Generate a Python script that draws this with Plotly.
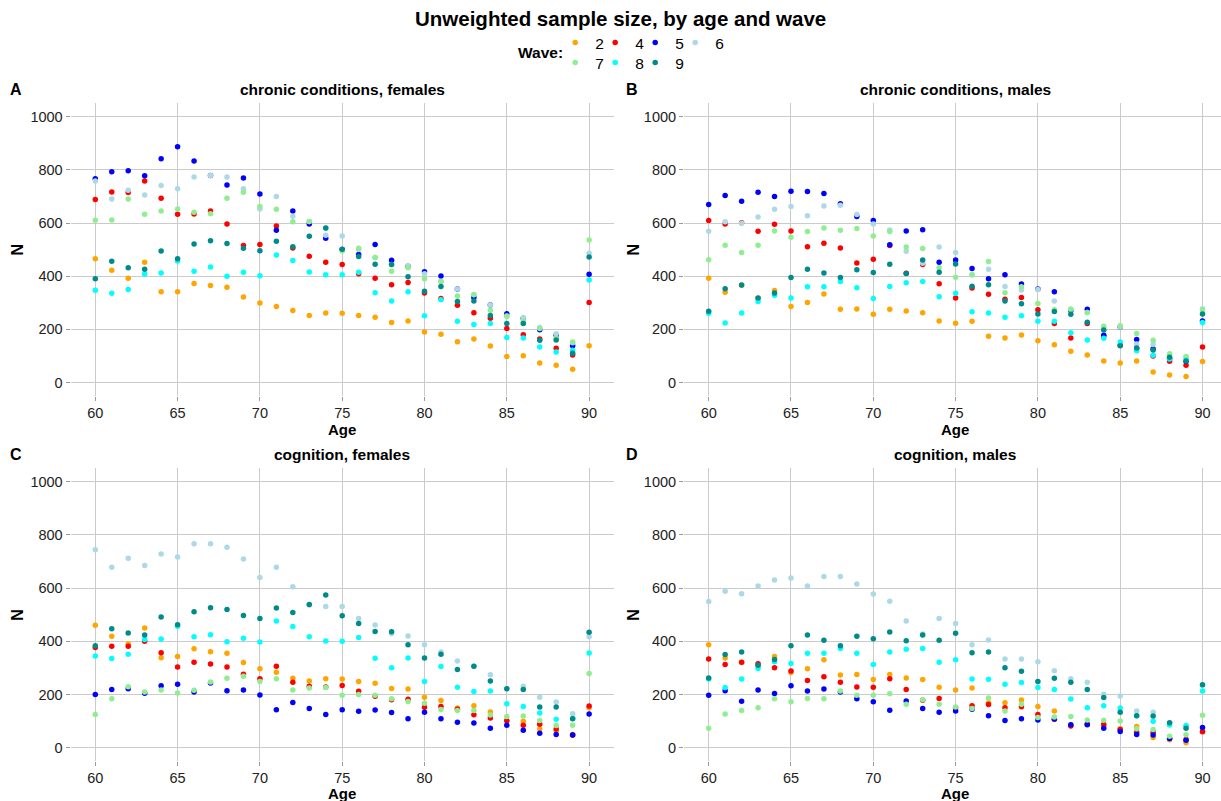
import plotly.graph_objects as go

# ---------------------------------------------------------------------------
# Data: unweighted sample size (N) by single year of age, per wave
# ---------------------------------------------------------------------------
ages = list(range(60, 91))
waves = ["2", "4", "5", "6", "7", "8", "9"]
wave_colors = ["#FFA500", "#FF0000", "#0000FF", "#ADD8E6", "#90EE90", "#00FFFF", "#008B8B"]

# A: chronic conditions, females
ccf_w2 = [466, 422, 392, 452, 342, 342, 373, 365, 358, 322, 299, 286, 271, 252, 262, 261,
          252, 246, 226, 232, 190, 182, 154, 164, 138, 98, 101, 74, 65, 50, 139]
ccf_w4 = [688, 717, 715, 758, 693, 633, 634, 645, 596, 515, 519, 589, 506, 475, 452, 444,
          409, 392, 368, 376, 337, 316, 291, 263, 242, 203, 180, 164, 129, 104, 301]
ccf_w5 = [766, 793, 796, 778, 842, 887, 833, 779, 743, 769, 709, 573, 645, 596, 543, 500,
          482, 519, 460, 437, 417, 401, 352, 320, 292, 259, 242, 199, 178, 139, 407]
ccf_w6 = [758, 690, 723, 705, 741, 729, 773, 779, 773, 729, 653, 700, 625, 606, 554, 551,
          500, 470, 444, 439, 409, 380, 352, 330, 292, 250, 244, 207, 184, 150, 486]
ccf_w7 = [610, 611, 690, 633, 645, 653, 640, 635, 693, 716, 662, 652, 605, 606, 580, 495,
          505, 470, 419, 432, 390, 380, 326, 331, 272, 249, 232, 203, 167, 153, 536]
ccf_w8 = [347, 336, 350, 408, 412, 457, 419, 435, 400, 415, 402, 480, 459, 416, 405, 405,
          415, 338, 307, 342, 251, 311, 231, 218, 222, 170, 168, 134, 115, 122, 386]
ccf_w9 = [390, 456, 432, 426, 495, 466, 521, 533, 523, 505, 496, 531, 511, 550, 581, 501,
          474, 445, 444, 398, 343, 361, 305, 307, 252, 222, 222, 159, 160, 110, 472]

# B: chronic conditions, males
ccm_w2 = [392, 340, 366, 317, 346, 286, 301, 333, 276, 277, 257, 276, 269, 263, 232, 223,
          231, 174, 168, 179, 157, 142, 118, 104, 81, 74, 81, 40, 29, 23, 79]
ccm_w4 = [609, 596, 601, 569, 595, 570, 511, 524, 506, 450, 464, 515, 411, 444, 372, 318,
          356, 332, 313, 320, 274, 222, 168, 222, 175, 140, 128, 100, 80, 65, 134]
ccm_w5 = [670, 703, 682, 716, 700, 719, 718, 711, 672, 624, 609, 518, 570, 575, 452, 461,
          429, 390, 405, 371, 352, 342, 271, 276, 178, 209, 162, 126, 90, 80, 232]
ccm_w6 = [569, 605, 599, 623, 652, 662, 627, 664, 667, 632, 596, 574, 494, 449, 510, 489,
          405, 426, 361, 348, 350, 307, 276, 264, 208, 209, 145, 144, 105, 95, 278]
ccm_w7 = [462, 516, 489, 516, 570, 546, 568, 581, 573, 579, 551, 568, 510, 504, 432, 396,
          405, 455, 338, 360, 297, 274, 276, 264, 212, 214, 185, 159, 108, 98, 273]
ccm_w8 = [261, 224, 262, 305, 328, 318, 360, 360, 380, 357, 316, 361, 375, 380, 323, 336,
          266, 262, 246, 251, 231, 231, 187, 160, 167, 153, 120, 103, 89, 84, 226]
ccm_w9 = [268, 353, 367, 318, 337, 395, 426, 412, 395, 424, 414, 445, 410, 461, 415, 446,
          362, 368, 307, 296, 258, 267, 257, 227, 198, 139, 130, 123, 95, 81, 258]

# C: cognition, females
cgf_w2 = [460, 419, 390, 450, 338, 343, 372, 361, 355, 320, 297, 284, 261, 251, 259, 258,
          249, 242, 223, 221, 190, 177, 149, 158, 134, 99, 99, 70, 63, 50, 150]
cgf_w4 = [377, 381, 381, 400, 357, 303, 321, 315, 303, 276, 259, 306, 246, 231, 228, 234,
          212, 193, 180, 182, 152, 155, 145, 124, 112, 102, 84, 88, 70, 48, 157]
cgf_w5 = [200, 219, 222, 205, 233, 239, 209, 243, 214, 217, 198, 143, 170, 147, 125, 143,
          137, 142, 132, 109, 133, 109, 96, 93, 73, 84, 66, 54, 50, 48, 127]
cgf_w6 = [744, 678, 712, 685, 728, 717, 767, 767, 754, 709, 640, 678, 605, 536, 531, 531,
          486, 461, 429, 420, 387, 360, 326, 306, 274, 222, 231, 190, 172, 128, 417]
cgf_w7 = [125, 184, 229, 209, 217, 206, 216, 247, 261, 269, 249, 259, 217, 224, 226, 197,
          200, 197, 184, 174, 167, 144, 140, 140, 123, 117, 119, 102, 83, 84, 279]
cgf_w8 = [345, 335, 351, 407, 409, 457, 417, 425, 398, 411, 397, 476, 456, 417, 401, 400,
          414, 336, 301, 337, 249, 305, 227, 211, 213, 165, 155, 130, 107, 110, 356]
cgf_w9 = [383, 447, 431, 424, 491, 462, 511, 526, 520, 497, 486, 525, 508, 538, 574, 496,
          467, 437, 436, 387, 337, 351, 294, 306, 251, 222, 219, 153, 153, 109, 434]

# D: cognition, males
cgm_w2 = [387, 337, 320, 310, 343, 283, 297, 331, 273, 275, 256, 275, 262, 256, 227, 217,
          224, 169, 169, 179, 155, 138, 85, 90, 81, 71, 80, 38, 30, 19, 62]
cgm_w4 = [333, 313, 321, 316, 301, 288, 253, 267, 246, 228, 227, 259, 219, 178, 185, 150,
          158, 162, 150, 154, 125, 107, 82, 88, 88, 68, 58, 58, 35, 31, 60]
cgm_w5 = [197, 214, 175, 217, 204, 233, 213, 221, 209, 184, 173, 141, 176, 147, 133, 138,
          145, 120, 102, 109, 104, 108, 86, 86, 73, 61, 50, 48, 35, 28, 76]
cgm_w6 = [550, 588, 579, 608, 630, 638, 608, 644, 644, 615, 578, 551, 476, 427, 486, 467,
          387, 405, 333, 333, 323, 289, 259, 246, 201, 194, 138, 133, 92, 80, 235]
cgm_w7 = [73, 127, 140, 150, 184, 173, 185, 184, 213, 197, 197, 203, 163, 180, 163, 153,
          147, 187, 138, 163, 114, 115, 117, 104, 103, 100, 71, 68, 43, 49, 122]
cgm_w8 = [258, 226, 258, 298, 323, 317, 355, 355, 373, 355, 313, 360, 370, 373, 321, 331,
          258, 257, 239, 245, 226, 219, 183, 150, 158, 149, 120, 99, 85, 83, 213]
cgm_w9 = [262, 350, 360, 310, 332, 383, 424, 404, 383, 419, 410, 435, 402, 424, 404, 430,
          357, 360, 301, 287, 249, 261, 246, 219, 189, 133, 120, 119, 94, 73, 237]

panel_tags = ["A", "B", "C", "D"]
panel_titles = ["chronic conditions, females", "chronic conditions, males",
                "cognition, females", "cognition, males"]
panel_series = [
    [ccf_w2, ccf_w4, ccf_w5, ccf_w6, ccf_w7, ccf_w8, ccf_w9],
    [ccm_w2, ccm_w4, ccm_w5, ccm_w6, ccm_w7, ccm_w8, ccm_w9],
    [cgf_w2, cgf_w4, cgf_w5, cgf_w6, cgf_w7, cgf_w8, cgf_w9],
    [cgm_w2, cgm_w4, cgm_w5, cgm_w6, cgm_w7, cgm_w8, cgm_w9],
]
x_ticks = [60, 65, 70, 75, 80, 85, 90]
y_ticks = [0, 200, 400, 600, 800, 1000]

# ---------------------------------------------------------------------------
# Layout geometry (pixels on a 1221 x 801 canvas)
# ---------------------------------------------------------------------------
W, H = 1221, 801
FONT = "Liberation Sans, Arial, Helvetica, sans-serif"


def fx(px):
    return px / W


def fy(py):
    return 1 - py / H


col_px = [(70.6, 613.8), (684.0, 1221.0)]
col_range = [[58.5, 91.5], [58.5, 58.5 + (1221.0 - 684.0) / (543.2 / 33)]]
col_center = [342.2, 955.5]
row_px = [(103.3, 395.9), (468.4, 761.0)]
y_range = [-50, 1050]

ENTRY_W = 40 / W          # legend spacing between entries
LAST_ENTRY_W = 70 / W     # wider last entry so its label is not clipped
row_last = {"6", "9"}

fig = go.Figure()

for p in range(4):
    r, c = divmod(p, 2)
    xa = "x" if p == 0 else f"x{p + 1}"
    ya = "y" if p == 0 else f"y{p + 1}"
    for k, (wave, col) in enumerate(zip(waves, wave_colors)):
        fig.add_trace(go.Scatter(
            x=ages, y=panel_series[p][k], xaxis=xa, yaxis=ya,
            mode="markers", name=wave,
            marker=dict(color=col, size=5.5, line=dict(width=0)),
            showlegend=(p == 0),
            legend="legend" if k < 4 else "legend2",
            legendwidth=LAST_ENTRY_W if wave in row_last else ENTRY_W,
            hoverinfo="x+y+name",
        ))

    axis_common = dict(
        showgrid=True, gridcolor="#CBCBCB", gridwidth=1.2,
        zeroline=False, showline=False,
        ticks="outside", ticklen=4, tickwidth=1, tickcolor="#9A9A9A",
        tickfont=dict(family=FONT, size=14.5, color="#222222"),
        automargin=False, fixedrange=True,
    )
    xkey = "xaxis" if p == 0 else f"xaxis{p + 1}"
    ykey = "yaxis" if p == 0 else f"yaxis{p + 1}"
    fig.update_layout({
        xkey: dict(axis_common, domain=[fx(col_px[c][0]), fx(col_px[c][1])],
                   range=col_range[c], tickvals=x_ticks, anchor=ya),
        ykey: dict(axis_common, domain=[fy(row_px[r][1]), fy(row_px[r][0])],
                   range=y_range, tickvals=y_ticks, anchor=xa),
    })

annotations = []


def text(x, y, s, size, bold=True, angle=0, xanchor="center"):
    annotations.append(dict(
        x=fx(x), y=fy(y), xref="paper", yref="paper", showarrow=False,
        text=f"<b>{s}</b>" if bold else s, textangle=angle,
        xanchor=xanchor, yanchor="middle",
        font=dict(family=FONT, size=size, color="#000000"),
    ))


text(620, 18, "Unweighted sample size, by age and wave", 20.5)
text(540, 53, "Wave:", 15.5)

tag_x = [8, 624]
label_y = [(89, 429), (454, 793)]
for p in range(4):
    r, c = divmod(p, 2)
    text(tag_x[c], label_y[r][0], panel_tags[p], 16, xanchor="left")
    text(col_center[c], label_y[r][0], panel_titles[p], 15.5)
    text(col_center[c], label_y[r][1], "Age", 15)
    text(tag_x[c] + 10, (row_px[r][0] + row_px[r][1]) / 2, "N", 16, angle=-90)

legend_common = dict(
    orientation="h", xanchor="left", yanchor="middle",
    bgcolor="rgba(0,0,0,0)", borderwidth=0,
    font=dict(family=FONT, size=15.5, color="#000000"),
    entrywidthmode="fraction",
    itemclick=False, itemdoubleclick=False,
)

fig.update_layout(
    template="none",
    width=W, height=H,
    margin=dict(l=0, r=0, t=0, b=0),
    paper_bgcolor="white", plot_bgcolor="white",
    font=dict(family=FONT, color="#000000"),
    showlegend=True,
    legend=dict(legend_common, x=fx(555.2), y=fy(43)),
    legend2=dict(legend_common, x=fx(555.2), y=fy(63)),
    annotations=annotations,
)

fig.write_html("out.html")
